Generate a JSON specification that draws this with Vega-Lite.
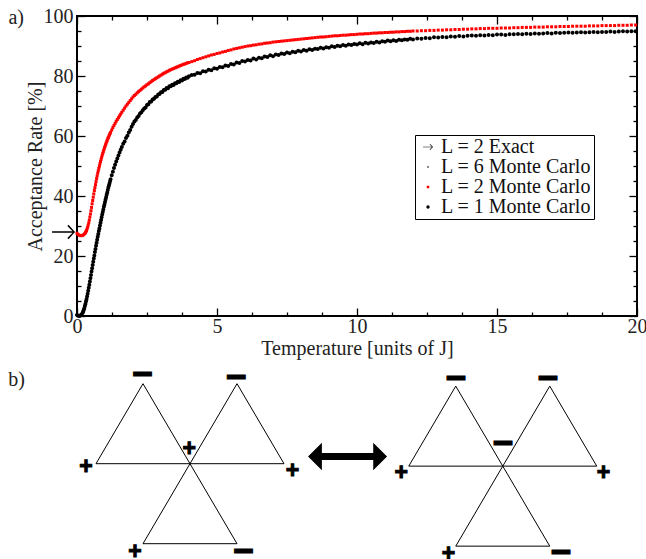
{
"$schema": "https://vega.github.io/schema/vega-lite/v6.json",
"padding": {"left": 7, "top": 5, "right": 0, "bottom": 0},
"spacing": 0,
"bounds": "flush",
"config": {"view": {"stroke": null}, "font": "Liberation Serif"},
"datasets": {
"red": [
{"T":0,"A":27.6},{"T":0.04,"A":27.2},{"T":0.08,"A":26.9},{"T":0.12,"A":26.8},{"T":0.16,"A":26.8},{"T":0.2,"A":26.9},{"T":0.24,"A":27.1},{"T":0.28,"A":27.5},{"T":0.3,"A":27.8},{"T":0.32,"A":28.1},{"T":0.34,"A":28.5},{"T":0.36,"A":29},{"T":0.38,"A":29.6},{"T":0.4,"A":30.3},{"T":0.42,"A":31.1},{"T":0.44,"A":32},{"T":0.46,"A":33},{"T":0.48,"A":34},{"T":0.5,"A":35.1},{"T":0.52,"A":36.2},{"T":0.54,"A":37.4},{"T":0.56,"A":38.5},{"T":0.58,"A":39.6},{"T":0.6,"A":40.7},{"T":0.62,"A":41.8},{"T":0.64,"A":42.8},{"T":0.66,"A":43.8},{"T":0.68,"A":44.8},{"T":0.7,"A":45.8},{"T":0.72,"A":46.7},{"T":0.74,"A":47.6},{"T":0.76,"A":48.4},{"T":0.78,"A":49.2},{"T":0.8,"A":50},{"T":0.82,"A":50.8},{"T":0.84,"A":51.5},{"T":0.86,"A":52.2},{"T":0.88,"A":52.9},{"T":0.9,"A":53.6},{"T":0.92,"A":54.2},{"T":0.94,"A":54.8},{"T":0.96,"A":55.4},{"T":0.98,"A":56},{"T":1,"A":56.5},{"T":1.02,"A":57.1},{"T":1.04,"A":57.6},{"T":1.06,"A":58.1},{"T":1.08,"A":58.6},{"T":1.1,"A":59.1},{"T":1.12,"A":59.5},{"T":1.14,"A":60},{"T":1.16,"A":60.4},{"T":1.18,"A":60.8},{"T":1.2,"A":61.2},{"T":1.24,"A":62},{"T":1.28,"A":62.8},{"T":1.32,"A":63.5},{"T":1.36,"A":64.2},{"T":1.4,"A":64.9},{"T":1.44,"A":65.5},{"T":1.48,"A":66.1},{"T":1.52,"A":66.7},{"T":1.56,"A":67.3},{"T":1.6,"A":67.9},
{"T":1.65,"A":68.6},{"T":1.7,"A":69.3},{"T":1.75,"A":70},{"T":1.8,"A":70.6},{"T":1.85,"A":71.2},{"T":1.9,"A":71.8},{"T":1.95,"A":72.4},{"T":2,"A":73},{"T":2.05,"A":73.5},{"T":2.1,"A":73.9},{"T":2.15,"A":74.4},{"T":2.2,"A":74.8},{"T":2.25,"A":75.2},{"T":2.3,"A":75.6},{"T":2.35,"A":76},{"T":2.4,"A":76.4},{"T":2.45,"A":76.7},{"T":2.5,"A":77.1},{"T":2.55,"A":77.4},{"T":2.6,"A":77.8},{"T":2.65,"A":78.1},{"T":2.7,"A":78.5},{"T":2.75,"A":78.8},{"T":2.8,"A":79.1},{"T":2.85,"A":79.4},{"T":2.9,"A":79.7},{"T":2.95,"A":80},{"T":3,"A":80.3},{"T":3.05,"A":80.6},{"T":3.1,"A":80.9},{"T":3.15,"A":81.1},{"T":3.2,"A":81.4},{"T":3.25,"A":81.6},{"T":3.3,"A":81.9},{"T":3.35,"A":82.1},{"T":3.4,"A":82.3},{"T":3.45,"A":82.5},{"T":3.5,"A":82.7},{"T":3.55,"A":82.9},{"T":3.6,"A":83.1},{"T":3.65,"A":83.3},{"T":3.7,"A":83.5},{"T":3.75,"A":83.7},{"T":3.8,"A":83.9},{"T":3.85,"A":84},{"T":3.9,"A":84.2},{"T":3.95,"A":84.4},{"T":4,"A":84.5},
{"T":4.1,"A":84.8},{"T":4.2,"A":85.1},{"T":4.3,"A":85.5},{"T":4.4,"A":85.8},{"T":4.5,"A":86.1},{"T":4.6,"A":86.4},{"T":4.7,"A":86.7},{"T":4.8,"A":87},{"T":4.9,"A":87.2},{"T":5,"A":87.5},{"T":5.1,"A":87.7},{"T":5.2,"A":88},{"T":5.3,"A":88.2},{"T":5.4,"A":88.5},{"T":5.5,"A":88.7},{"T":5.6,"A":89},{"T":5.7,"A":89.2},{"T":5.8,"A":89.4},{"T":5.9,"A":89.6},{"T":6,"A":89.8},{"T":6.1,"A":90},{"T":6.2,"A":90.1},{"T":6.3,"A":90.3},{"T":6.4,"A":90.4},{"T":6.5,"A":90.6},{"T":6.6,"A":90.7},{"T":6.7,"A":90.9},{"T":6.8,"A":91},{"T":6.9,"A":91.1},{"T":7,"A":91.3},{"T":7.1,"A":91.4},{"T":7.2,"A":91.5},{"T":7.3,"A":91.6},{"T":7.4,"A":91.7},{"T":7.5,"A":91.8},{"T":7.6,"A":91.9},{"T":7.7,"A":92},{"T":7.8,"A":92.1},{"T":7.9,"A":92.2},{"T":8,"A":92.3},{"T":8.1,"A":92.4},{"T":8.2,"A":92.5},{"T":8.3,"A":92.6},{"T":8.4,"A":92.7},{"T":8.5,"A":92.8},{"T":8.6,"A":92.9},{"T":8.7,"A":93},{"T":8.8,"A":93},{"T":8.9,"A":93.1},{"T":9,"A":93.2},{"T":9.1,"A":93.3},{"T":9.2,"A":93.4},{"T":9.3,"A":93.4},{"T":9.4,"A":93.5},{"T":9.5,"A":93.6},{"T":9.6,"A":93.6},{"T":9.7,"A":93.7},{"T":9.8,"A":93.8},{"T":9.9,"A":93.8},{"T":10,"A":93.9},{"T":10.1,"A":94},{"T":10.2,"A":94},{"T":10.3,"A":94.1},{"T":10.4,"A":94.1},{"T":10.5,"A":94.2},{"T":10.6,"A":94.3},{"T":10.7,"A":94.3},{"T":10.8,"A":94.4},{"T":10.9,"A":94.4},{"T":11,"A":94.5},{"T":11.1,"A":94.5},{"T":11.2,"A":94.6},{"T":11.3,"A":94.6},{"T":11.4,"A":94.7},{"T":11.5,"A":94.7},{"T":11.6,"A":94.8},{"T":11.7,"A":94.8},{"T":11.8,"A":94.9},{"T":11.9,"A":94.9},{"T":12,"A":95},
{"T":12.15,"A":95},{"T":12.3,"A":95.1},{"T":12.45,"A":95.1},{"T":12.6,"A":95.2},{"T":12.75,"A":95.2},{"T":12.9,"A":95.3},{"T":13.05,"A":95.3},{"T":13.2,"A":95.4},{"T":13.35,"A":95.4},{"T":13.5,"A":95.5},{"T":13.65,"A":95.5},{"T":13.8,"A":95.6},{"T":13.95,"A":95.6},{"T":14.1,"A":95.7},{"T":14.25,"A":95.7},{"T":14.4,"A":95.8},{"T":14.55,"A":95.8},{"T":14.7,"A":95.9},{"T":14.85,"A":95.9},{"T":15,"A":95.9},{"T":15.15,"A":96},{"T":15.3,"A":96},{"T":15.45,"A":96},{"T":15.6,"A":96.1},{"T":15.75,"A":96.1},{"T":15.9,"A":96.2},{"T":16.05,"A":96.2},{"T":16.2,"A":96.2},{"T":16.35,"A":96.3},{"T":16.5,"A":96.3},{"T":16.65,"A":96.3},{"T":16.8,"A":96.4},{"T":16.95,"A":96.4},{"T":17.1,"A":96.4},{"T":17.25,"A":96.5},{"T":17.4,"A":96.5},{"T":17.55,"A":96.5},{"T":17.7,"A":96.6},{"T":17.85,"A":96.6},{"T":18,"A":96.6},{"T":18.15,"A":96.6},{"T":18.3,"A":96.7},{"T":18.45,"A":96.7},{"T":18.6,"A":96.7},{"T":18.75,"A":96.8},{"T":18.9,"A":96.8},{"T":19.05,"A":96.8},{"T":19.2,"A":96.8},{"T":19.35,"A":96.9},{"T":19.5,"A":96.9},{"T":19.65,"A":96.9},{"T":19.8,"A":97},{"T":19.95,"A":97}
],
"black": [
{"T":0,"A":0.3},{"T":0.04,"A":0.1},{"T":0.08,"A":0},{"T":0.12,"A":0.2},{"T":0.16,"A":0.5},{"T":0.2,"A":1},{"T":0.22,"A":1.5},{"T":0.24,"A":2},{"T":0.26,"A":2.6},{"T":0.28,"A":3.3},{"T":0.3,"A":4},{"T":0.32,"A":4.8},{"T":0.34,"A":5.6},{"T":0.36,"A":6.5},{"T":0.38,"A":7.4},{"T":0.4,"A":8.4},{"T":0.42,"A":9.4},{"T":0.44,"A":10.4},{"T":0.46,"A":11.5},{"T":0.48,"A":12.6},{"T":0.5,"A":13.7},{"T":0.52,"A":14.8},{"T":0.54,"A":15.9},{"T":0.56,"A":17},{"T":0.58,"A":18.1},{"T":0.6,"A":19.2},{"T":0.62,"A":20.2},{"T":0.64,"A":21.3},{"T":0.66,"A":22.3},{"T":0.68,"A":23.4},{"T":0.7,"A":24.4},{"T":0.72,"A":25.4},{"T":0.74,"A":26.4},{"T":0.76,"A":27.3},{"T":0.78,"A":28.3},{"T":0.8,"A":29.2},{"T":0.82,"A":30.2},{"T":0.84,"A":31.1},{"T":0.86,"A":32},{"T":0.88,"A":32.9},{"T":0.9,"A":33.8},{"T":0.92,"A":34.7},{"T":0.94,"A":35.5},{"T":0.96,"A":36.4},{"T":0.98,"A":37.2},{"T":1,"A":38},{"T":1.02,"A":38.8},{"T":1.04,"A":39.6},{"T":1.06,"A":40.4},{"T":1.08,"A":41.2},{"T":1.1,"A":42},{"T":1.12,"A":42.8},{"T":1.14,"A":43.5},{"T":1.16,"A":44.2},{"T":1.18,"A":44.9},{"T":1.2,"A":45.6},{"T":1.24,"A":46.9},{"T":1.28,"A":48.1},{"T":1.32,"A":49.3},{"T":1.36,"A":50.4},{"T":1.4,"A":51.5},{"T":1.44,"A":52.5},{"T":1.48,"A":53.5},{"T":1.52,"A":54.5},{"T":1.56,"A":55.4},{"T":1.6,"A":56.3},
{"T":1.65,"A":57.4},{"T":1.7,"A":58.2},{"T":1.75,"A":59.3},{"T":1.8,"A":60.1},{"T":1.85,"A":61.2},{"T":1.9,"A":62},{"T":1.95,"A":63.1},{"T":2,"A":64},{"T":2.05,"A":64.8},{"T":2.1,"A":65.3},{"T":2.15,"A":66.2},{"T":2.2,"A":66.7},{"T":2.25,"A":67.5},{"T":2.3,"A":67.9},{"T":2.35,"A":68.6},{"T":2.4,"A":69.2},{"T":2.45,"A":69.5},{"T":2.5,"A":70.3},{"T":2.55,"A":70.6},{"T":2.6,"A":71.3},{"T":2.65,"A":71.5},{"T":2.7,"A":72.2},{"T":2.75,"A":72.4},{"T":2.8,"A":73},{"T":2.85,"A":73.2},{"T":2.9,"A":73.8},{"T":2.95,"A":74},{"T":3,"A":74.6},{"T":3.05,"A":74.7},{"T":3.1,"A":75.3},{"T":3.15,"A":75.4},{"T":3.2,"A":76},{"T":3.25,"A":75.9},{"T":3.3,"A":76.6},{"T":3.35,"A":76.6},{"T":3.4,"A":77.1},{"T":3.45,"A":77},{"T":3.5,"A":77.6},{"T":3.55,"A":77.6},{"T":3.6,"A":78.1},{"T":3.65,"A":78},{"T":3.7,"A":78.6},{"T":3.75,"A":78.5},{"T":3.8,"A":79.1},{"T":3.85,"A":79},{"T":3.9,"A":79.5},{"T":3.95,"A":79.4},{"T":4,"A":79.9},
{"T":4.1,"A":80.3},{"T":4.2,"A":80.4},{"T":4.3,"A":81},{"T":4.4,"A":80.9},{"T":4.5,"A":81.6},{"T":4.6,"A":81.5},{"T":4.7,"A":82.1},{"T":4.8,"A":81.9},{"T":4.9,"A":82.6},{"T":5,"A":82.4},{"T":5.1,"A":83},{"T":5.2,"A":82.9},{"T":5.3,"A":83.5},{"T":5.4,"A":83.3},{"T":5.5,"A":84},{"T":5.6,"A":83.8},{"T":5.7,"A":84.5},{"T":5.8,"A":84.3},{"T":5.9,"A":85},{"T":6,"A":84.8},{"T":6.1,"A":85.3},{"T":6.2,"A":85.2},{"T":6.3,"A":85.8},{"T":6.4,"A":85.5},{"T":6.5,"A":86.1},{"T":6.6,"A":85.9},{"T":6.7,"A":86.5},{"T":6.8,"A":86.3},{"T":6.9,"A":86.9},{"T":7,"A":86.6},{"T":7.1,"A":87.2},{"T":7.2,"A":87},{"T":7.3,"A":87.5},{"T":7.4,"A":87.3},{"T":7.5,"A":87.8},{"T":7.6,"A":87.6},{"T":7.7,"A":88.1},{"T":7.8,"A":87.9},{"T":7.9,"A":88.4},{"T":8,"A":88.2},{"T":8.1,"A":88.7},{"T":8.2,"A":88.4},{"T":8.3,"A":88.9},{"T":8.4,"A":88.7},{"T":8.5,"A":89.1},{"T":8.6,"A":89},{"T":8.7,"A":89.4},{"T":8.8,"A":89.2},{"T":8.9,"A":89.6},{"T":9,"A":89.4},{"T":9.1,"A":89.9},{"T":9.2,"A":89.7},{"T":9.3,"A":90.1},{"T":9.4,"A":89.9},{"T":9.5,"A":90.3},{"T":9.6,"A":90.1},{"T":9.7,"A":90.5},{"T":9.8,"A":90.3},{"T":9.9,"A":90.7},{"T":10,"A":90.5},{"T":10.1,"A":90.9},{"T":10.2,"A":90.6},{"T":10.3,"A":91.1},{"T":10.4,"A":90.8},{"T":10.5,"A":91.2},{"T":10.6,"A":91},{"T":10.7,"A":91.4},{"T":10.8,"A":91.2},{"T":10.9,"A":91.6},{"T":11,"A":91.4},{"T":11.1,"A":91.8},{"T":11.2,"A":91.6},{"T":11.3,"A":91.9},{"T":11.4,"A":91.7},{"T":11.5,"A":92.1},{"T":11.6,"A":91.9},{"T":11.7,"A":92.2},{"T":11.8,"A":92.1},{"T":11.9,"A":92.4},{"T":12,"A":92.2},
{"T":12.15,"A":92.5},{"T":12.3,"A":92.4},{"T":12.45,"A":92.7},{"T":12.6,"A":92.6},{"T":12.75,"A":92.9},{"T":12.9,"A":92.8},{"T":13.05,"A":93},{"T":13.2,"A":92.9},{"T":13.35,"A":93.2},{"T":13.5,"A":93.1},{"T":13.65,"A":93.3},{"T":13.8,"A":93.2},{"T":13.95,"A":93.4},{"T":14.1,"A":93.5},{"T":14.25,"A":93.4},{"T":14.4,"A":93.6},{"T":14.55,"A":93.5},{"T":14.7,"A":93.7},{"T":14.85,"A":93.6},{"T":15,"A":93.8},{"T":15.15,"A":93.8},{"T":15.3,"A":93.7},{"T":15.45,"A":93.9},{"T":15.6,"A":93.9},{"T":15.75,"A":94},{"T":15.9,"A":93.9},{"T":16.05,"A":94.1},{"T":16.2,"A":94},{"T":16.35,"A":94.2},{"T":16.5,"A":94.1},{"T":16.65,"A":94.2},{"T":16.8,"A":94.3},{"T":16.95,"A":94.2},{"T":17.1,"A":94.4},{"T":17.25,"A":94.3},{"T":17.4,"A":94.4},{"T":17.55,"A":94.5},{"T":17.7,"A":94.4},{"T":17.85,"A":94.5},{"T":18,"A":94.6},{"T":18.15,"A":94.5},{"T":18.3,"A":94.6},{"T":18.45,"A":94.7},{"T":18.6,"A":94.6},{"T":18.75,"A":94.7},{"T":18.9,"A":94.7},{"T":19.05,"A":94.8},{"T":19.2,"A":94.7},{"T":19.35,"A":94.8},{"T":19.5,"A":94.9},{"T":19.65,"A":94.8},{"T":19.8,"A":94.9},{"T":19.95,"A":94.9}
],
"tri": [
{"g":"a1","o":0,"x":0,"y":0},{"g":"a1","o":1,"x":-1,"y":0},{"g":"a1","o":2,"x":-0.5,"y":0.851},{"g":"a1","o":3,"x":0,"y":0},
{"g":"a2","o":0,"x":0,"y":0},{"g":"a2","o":1,"x":1,"y":0},{"g":"a2","o":2,"x":0.5,"y":0.851},{"g":"a2","o":3,"x":0,"y":0},
{"g":"a3","o":0,"x":0,"y":0},{"g":"a3","o":1,"x":-0.5,"y":-0.851},{"g":"a3","o":2,"x":0.5,"y":-0.851},{"g":"a3","o":3,"x":0,"y":0},
{"g":"b1","o":0,"x":3.327,"y":-0.026},{"g":"b1","o":1,"x":2.327,"y":-0.026},{"g":"b1","o":2,"x":2.827,"y":0.825},{"g":"b1","o":3,"x":3.327,"y":-0.026},
{"g":"b2","o":0,"x":3.327,"y":-0.026},{"g":"b2","o":1,"x":4.327,"y":-0.026},{"g":"b2","o":2,"x":3.827,"y":0.825},{"g":"b2","o":3,"x":3.327,"y":-0.026},
{"g":"b3","o":0,"x":3.327,"y":-0.026},{"g":"b3","o":1,"x":2.827,"y":-0.877},{"g":"b3","o":2,"x":3.827,"y":-0.877},{"g":"b3","o":3,"x":3.327,"y":-0.026}
],
"signs": [
{"x":-0.507,"y":0.94,"s":"−"},{"x":0.49,"y":0.915,"s":"−"},{"x":0.567,"y":-0.94,"s":"−"},
{"x":-1.106,"y":-0.03,"s":"+"},{"x":-0.007,"y":0.153,"s":"+"},{"x":1.09,"y":-0.078,"s":"+"},{"x":-0.585,"y":-0.94,"s":"+"},
{"x":2.827,"y":0.904,"s":"−"},{"x":3.807,"y":0.904,"s":"−"},{"x":3.327,"y":0.208,"s":"−"},{"x":3.944,"y":-0.946,"s":"−"},
{"x":2.247,"y":-0.094,"s":"+"},{"x":4.397,"y":-0.094,"s":"+"},{"x":2.749,"y":-0.962,"s":"+"}
]
},
"vconcat": [
{
"width": 560, "height": 300,
"view": {"stroke": "black", "strokeWidth": 2},
"layer": [
{
"data": {"name": "black"},
"mark": {"type": "point", "filled": true, "opacity": 1, "size": 144, "strokeWidth": 0},
"encoding": {
"x": {"field": "T", "type": "quantitative", "scale": {"domain": [0, 20], "nice": false, "zero": false},
 "axis": {"orient": "bottom", "values": [0,1.25,2.5,3.75,5,6.25,7.5,8.75,10,11.25,12.5,13.75,15,16.25,17.5,18.75,20],
  "labelExpr": "datum.value % 5 === 0 ? datum.label : ''",
  "tickSize": {"condition": {"test": "datum.value % 5 === 0", "value": -8}, "value": -4},
  "tickColor": "black", "tickWidth": 1.3, "domain": false, "grid": false,
  "labelFont": "Liberation Serif", "labelFontSize": 20, "labelColor": "#222", "labelPadding": 8, "labelFlush": false, "labelOverlap": false,
  "title": "Temperature [units of J]", "titleFont": "Liberation Serif", "titleFontSize": 20, "titleFontWeight": "normal", "titleColor": "#222", "titlePadding": -2}},
"y": {"field": "A", "type": "quantitative", "scale": {"domain": [0, 100], "nice": false, "zero": false},
 "axis": {"orient": "left", "values": [0,5,10,15,20,25,30,35,40,45,50,55,60,65,70,75,80,85,90,95,100],
  "labelExpr": "datum.value % 20 === 0 ? datum.label : ''",
  "tickSize": {"condition": {"test": "datum.value % 20 === 0", "value": -8}, "value": -4},
  "tickColor": "black", "tickWidth": 1.3, "domain": false, "grid": false,
  "labelFont": "Liberation Serif", "labelFontSize": 20, "labelColor": "#222", "labelPadding": 12, "labelFlush": false, "labelOverlap": false,
  "title": "Acceptance Rate [%]", "titleFont": "Liberation Serif", "titleFontSize": 20, "titleFontWeight": "normal", "titleColor": "#222", "titlePadding": -2}},
"color": {"datum": "L = 1 Monte Carlo", "type": "nominal",
 "scale": {"domain": ["L = 2 Exact", "L = 6 Monte Carlo", "L = 2 Monte Carlo", "L = 1 Monte Carlo"], "range": ["black", "black", "red", "black"]},
 "legend": {"orient": "none", "legendX": 338, "legendY": 119, "title": null, "direction": "vertical",
  "labelFont": "Liberation Serif", "labelFontSize": 20, "labelColor": "#111", "labelOffset": 3,
  "strokeColor": "black", "fillColor": "white", "padding": 2, "rowPadding": 0, "symbolOffset": 1, "cornerRadius": 0, "symbolStrokeWidth": 0}},
"shape": {"datum": "L = 1 Monte Carlo", "type": "nominal",
 "scale": {"domain": ["L = 2 Exact", "L = 6 Monte Carlo", "L = 2 Monte Carlo", "L = 1 Monte Carlo"],
  "range": ["M-1,-0.07L0.78,-0.07L0.33,-0.52L0.43,-0.62L1,0L0.43,0.62L0.33,0.52L0.78,0.07L-1,0.07Z",
   "M-0.17,0A0.17,0.17 0 1,0 0.17,0A0.17,0.17 0 1,0 -0.17,0Z",
   "M-0.25,-0.25H0.25V0.25H-0.25Z",
   "M-0.33,0A0.33,0.33 0 1,0 0.33,0A0.33,0.33 0 1,0 -0.33,0Z"]}}
}
},
{
"data": {"name": "red"},
"mark": {"type": "point", "filled": true, "opacity": 1, "size": 144, "strokeWidth": 0},
"encoding": {
"x": {"field": "T", "type": "quantitative",
 "axis": {"orient": "top", "values": [0,1.25,2.5,3.75,5,6.25,7.5,8.75,10,11.25,12.5,13.75,15,16.25,17.5,18.75,20], "labels": false, "title": null,
  "tickSize": {"condition": {"test": "datum.value % 5 === 0", "value": -8}, "value": -4},
  "tickColor": "black", "tickWidth": 1.3, "domain": false, "grid": false}},
"y": {"field": "A", "type": "quantitative",
 "axis": {"orient": "right", "values": [0,5,10,15,20,25,30,35,40,45,50,55,60,65,70,75,80,85,90,95,100], "labels": false, "title": null,
  "tickSize": {"condition": {"test": "datum.value % 20 === 0", "value": -8}, "value": -4},
  "tickColor": "black", "tickWidth": 1.3, "domain": false, "grid": false}},
"color": {"datum": "L = 2 Monte Carlo", "type": "nominal"},
"shape": {"datum": "L = 2 Monte Carlo", "type": "nominal"}
}
},
{
"data": {"values": [{"T": -0.48, "A": 28}]},
"mark": {"type": "point", "filled": true, "opacity": 1, "color": "black", "strokeWidth": 0, "size": 529,
 "shape": "M-1,-0.07L0.78,-0.07L0.33,-0.52L0.43,-0.62L1,0L0.43,0.62L0.33,0.52L0.78,0.07L-1,0.07Z"},
"encoding": {
"x": {"field": "T", "type": "quantitative", "axis": null},
"y": {"field": "A", "type": "quantitative", "axis": null}
}
},
{
"data": {"values": [{"T": -2.45, "A": 99.2, "label": "a)"}]},
"mark": {"type": "text", "align": "left", "baseline": "middle", "font": "Liberation Serif", "fontSize": 20, "color": "#222"},
"encoding": {
"x": {"field": "T", "type": "quantitative", "axis": null},
"y": {"field": "A", "type": "quantitative", "axis": null},
"text": {"field": "label"}
}
}
]
},
{
"width": 560, "height": 245,
"layer": [
{
"data": {"name": "tri"},
"mark": {"type": "line", "color": "black", "strokeWidth": 1},
"encoding": {
"x": {"field": "x", "type": "quantitative", "scale": {"domain": [-1.202, 4.755], "nice": false, "zero": false}, "axis": null},
"y": {"field": "y", "type": "quantitative", "scale": {"domain": [-1.035, 1.571], "nice": false, "zero": false}, "axis": null},
"detail": {"field": "g"},
"order": {"field": "o"}
}
},
{
"data": {"name": "signs"},
"mark": {"type": "text", "font": "Liberation Sans", "fontWeight": "bold", "align": "center", "baseline": "middle", "color": "black", "stroke": "black", "strokeWidth": 1},
"encoding": {
"x": {"field": "x", "type": "quantitative", "axis": null},
"y": {"field": "y", "type": "quantitative", "axis": null},
"text": {"field": "s"},
"size": {"condition": {"test": "datum.s === '+'", "value": 23}, "value": 36}
}
},
{
"data": {"values": [{"x": 1.676, "y": 0.077}]},
"mark": {"type": "point", "filled": true, "opacity": 1, "color": "black", "strokeWidth": 0, "size": 6241,
 "shape": "M-1,0L-0.65,-0.35L-0.65,-0.09L0.65,-0.09L0.65,-0.35L1,0L0.65,0.35L0.65,0.09L-0.65,0.09L-0.65,0.35Z"},
"encoding": {
"x": {"field": "x", "type": "quantitative", "axis": null},
"y": {"field": "y", "type": "quantitative", "axis": null}
}
},
{
"data": {"values": [{"x": -1.933, "y": 0.885, "label": "b)"}]},
"mark": {"type": "text", "align": "left", "baseline": "middle", "font": "Liberation Serif", "fontSize": 20, "color": "#222"},
"encoding": {
"x": {"field": "x", "type": "quantitative", "axis": null},
"y": {"field": "y", "type": "quantitative", "axis": null},
"text": {"field": "label"}
}
}
]
}
]
}
